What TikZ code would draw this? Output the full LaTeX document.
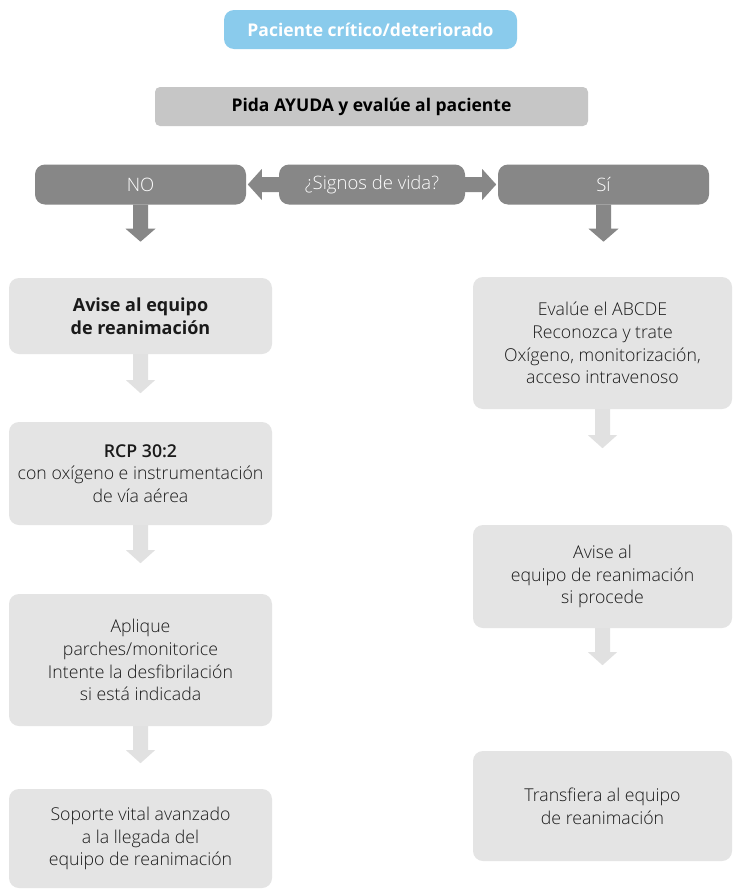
\documentclass[tikz,border=0pt]{standalone}
\usepackage{fontspec}
\setmainfont{Open Sans}
\newfontfamily\lightf{Open Sans Light}
\usetikzlibrary{calc}

\definecolor{skyblue}{HTML}{8ACBEC}
\definecolor{helpgray}{HTML}{C6C6C6}
\definecolor{darkgray}{HTML}{878787}
\definecolor{boxgray}{HTML}{E4E4E4}
\definecolor{arrowgray}{HTML}{E1E1E1}
\definecolor{textblack}{HTML}{1A1A1A}

% block arrow pointing down: start point, length, half shaft, half head, head length, colour
\newcommand\arrowdown[6]{%
  \fill[#6] let \p1=(#1) in
    (\x1-#3,\y1) -- (\x1+#3,\y1) -- (\x1+#3,\y1-#2+#5) -- (\x1+#4,\y1-#2+#5)
    -- (\x1,\y1-#2) -- (\x1-#4,\y1-#2+#5) -- (\x1-#3,\y1-#2+#5) -- cycle;}
% block arrow along x: start point, signed length, half shaft, half head, signed head length, colour
\newcommand\arrowhoriz[6]{%
  \fill[#6] let \p1=(#1) in
    (\x1,\y1-#3) -- (\x1,\y1+#3) -- (\x1+#2-#5,\y1+#3) -- (\x1+#2-#5,\y1+#4)
    -- (\x1+#2,\y1) -- (\x1+#2-#5,\y1-#4) -- (\x1+#2-#5,\y1-#3) -- cycle;}

\tikzset{
  headbox/.style={fill=skyblue, rounded corners=10pt, minimum width=293pt, minimum height=39pt,
    inner sep=0pt, text=white, font=\bfseries\fontsize{17.5}{20}\selectfont},
  helpbox/.style={fill=helpgray, rounded corners=5pt, minimum width=433pt, minimum height=39pt,
    inner sep=0pt, text=black, font=\bfseries\fontsize{17.5}{20}\selectfont},
  rowbox/.style={fill=darkgray, rounded corners=10pt, minimum height=40pt,
    inner sep=0pt, text=white, font=\lightf\fontsize{18.5}{20}\selectfont},
  stepbox/.style={fill=boxgray, rounded corners=10pt, inner sep=0pt, align=center,
    text=textblack, font=\lightf\fontsize{17.7}{22.8}\selectfont,
    execute at begin node={\rule{0pt}{18pt}}},
  boldtext/.style={font=\bfseries\fontsize{18}{23.5}\selectfont},
}

\begin{document}
\begin{tikzpicture}[x=1pt, y=-1pt]
\useasboundingbox (0,0) rectangle (733,889);
\fill[white] (0,0) rectangle (733,889);

% header
\node[headbox] (start) at (370.5,29.5) {Paciente crítico/deteriorado};
\node[helpbox] (help) at (371.5,106.5) {Pida AYUDA y evalúe al paciente};

% decision row
\node[rowbox, minimum width=211pt] (no) at (140.5,184.5) {NO};
\node[rowbox, minimum width=186pt] (sig) at (372,184.5) {¿Signos de vida?};
\node[rowbox, minimum width=211pt] (si) at (603.5,184.5) {Sí};

\arrowhoriz{sig.west}{-31pt}{7.5pt}{15.5pt}{-14pt}{darkgray}
\arrowhoriz{sig.east}{31pt}{7.5pt}{15.5pt}{14pt}{darkgray}
\arrowdown{no.south}{37pt}{7.5pt}{15pt}{13pt}{darkgray}
\arrowdown{si.south}{37pt}{7.5pt}{15pt}{13pt}{darkgray}

% left column
\node[stepbox, boldtext, minimum width=263pt, minimum height=76pt] (l1) at (140.5,316)
  {Avise al equipo\\de reanimación};
\node[stepbox, minimum width=263pt, minimum height=103pt] (l2) at (140.5,473.5)
  {{\bfseries RCP 30:2}\\con oxígeno e instrumentación\\de vía aérea};
\node[stepbox, minimum width=263pt, minimum height=132pt] (l3) at (140.5,660)
  {Aplique\\parches/monitorice\\Intente la desfibrilación\\si está indicada};
\node[stepbox, minimum width=263pt, minimum height=99pt] (l4) at (140.5,838.5)
  {Soporte vital avanzado\\a la llegada del\\equipo de reanimación};

\arrowdown{l1.south}{39pt}{7.5pt}{14.5pt}{13pt}{arrowgray}
\arrowdown{l2.south}{38pt}{7.5pt}{14.5pt}{13pt}{arrowgray}
\arrowdown{l3.south}{37pt}{7.5pt}{14.5pt}{13pt}{arrowgray}

% right column
\node[stepbox, minimum width=259pt, minimum height=132pt] (r1) at (602.5,343)
  {Evalúe el ABCDE\\Reconozca y trate\\Oxígeno, monitorización,\\acceso intravenoso};
\node[stepbox, minimum width=259pt, minimum height=103pt] (r2) at (602.5,576.5)
  {Avise al\\equipo de reanimación\\si procede};
\node[stepbox, minimum width=259pt, minimum height=110pt] (r3) at (602.5,806)
  {Transfiera al equipo\\de reanimación};

\arrowdown{r1.south}{39pt}{7.5pt}{14.5pt}{13pt}{arrowgray}
\arrowdown{r2.south}{37pt}{7.5pt}{14.5pt}{13pt}{arrowgray}
\end{tikzpicture}
\end{document}
